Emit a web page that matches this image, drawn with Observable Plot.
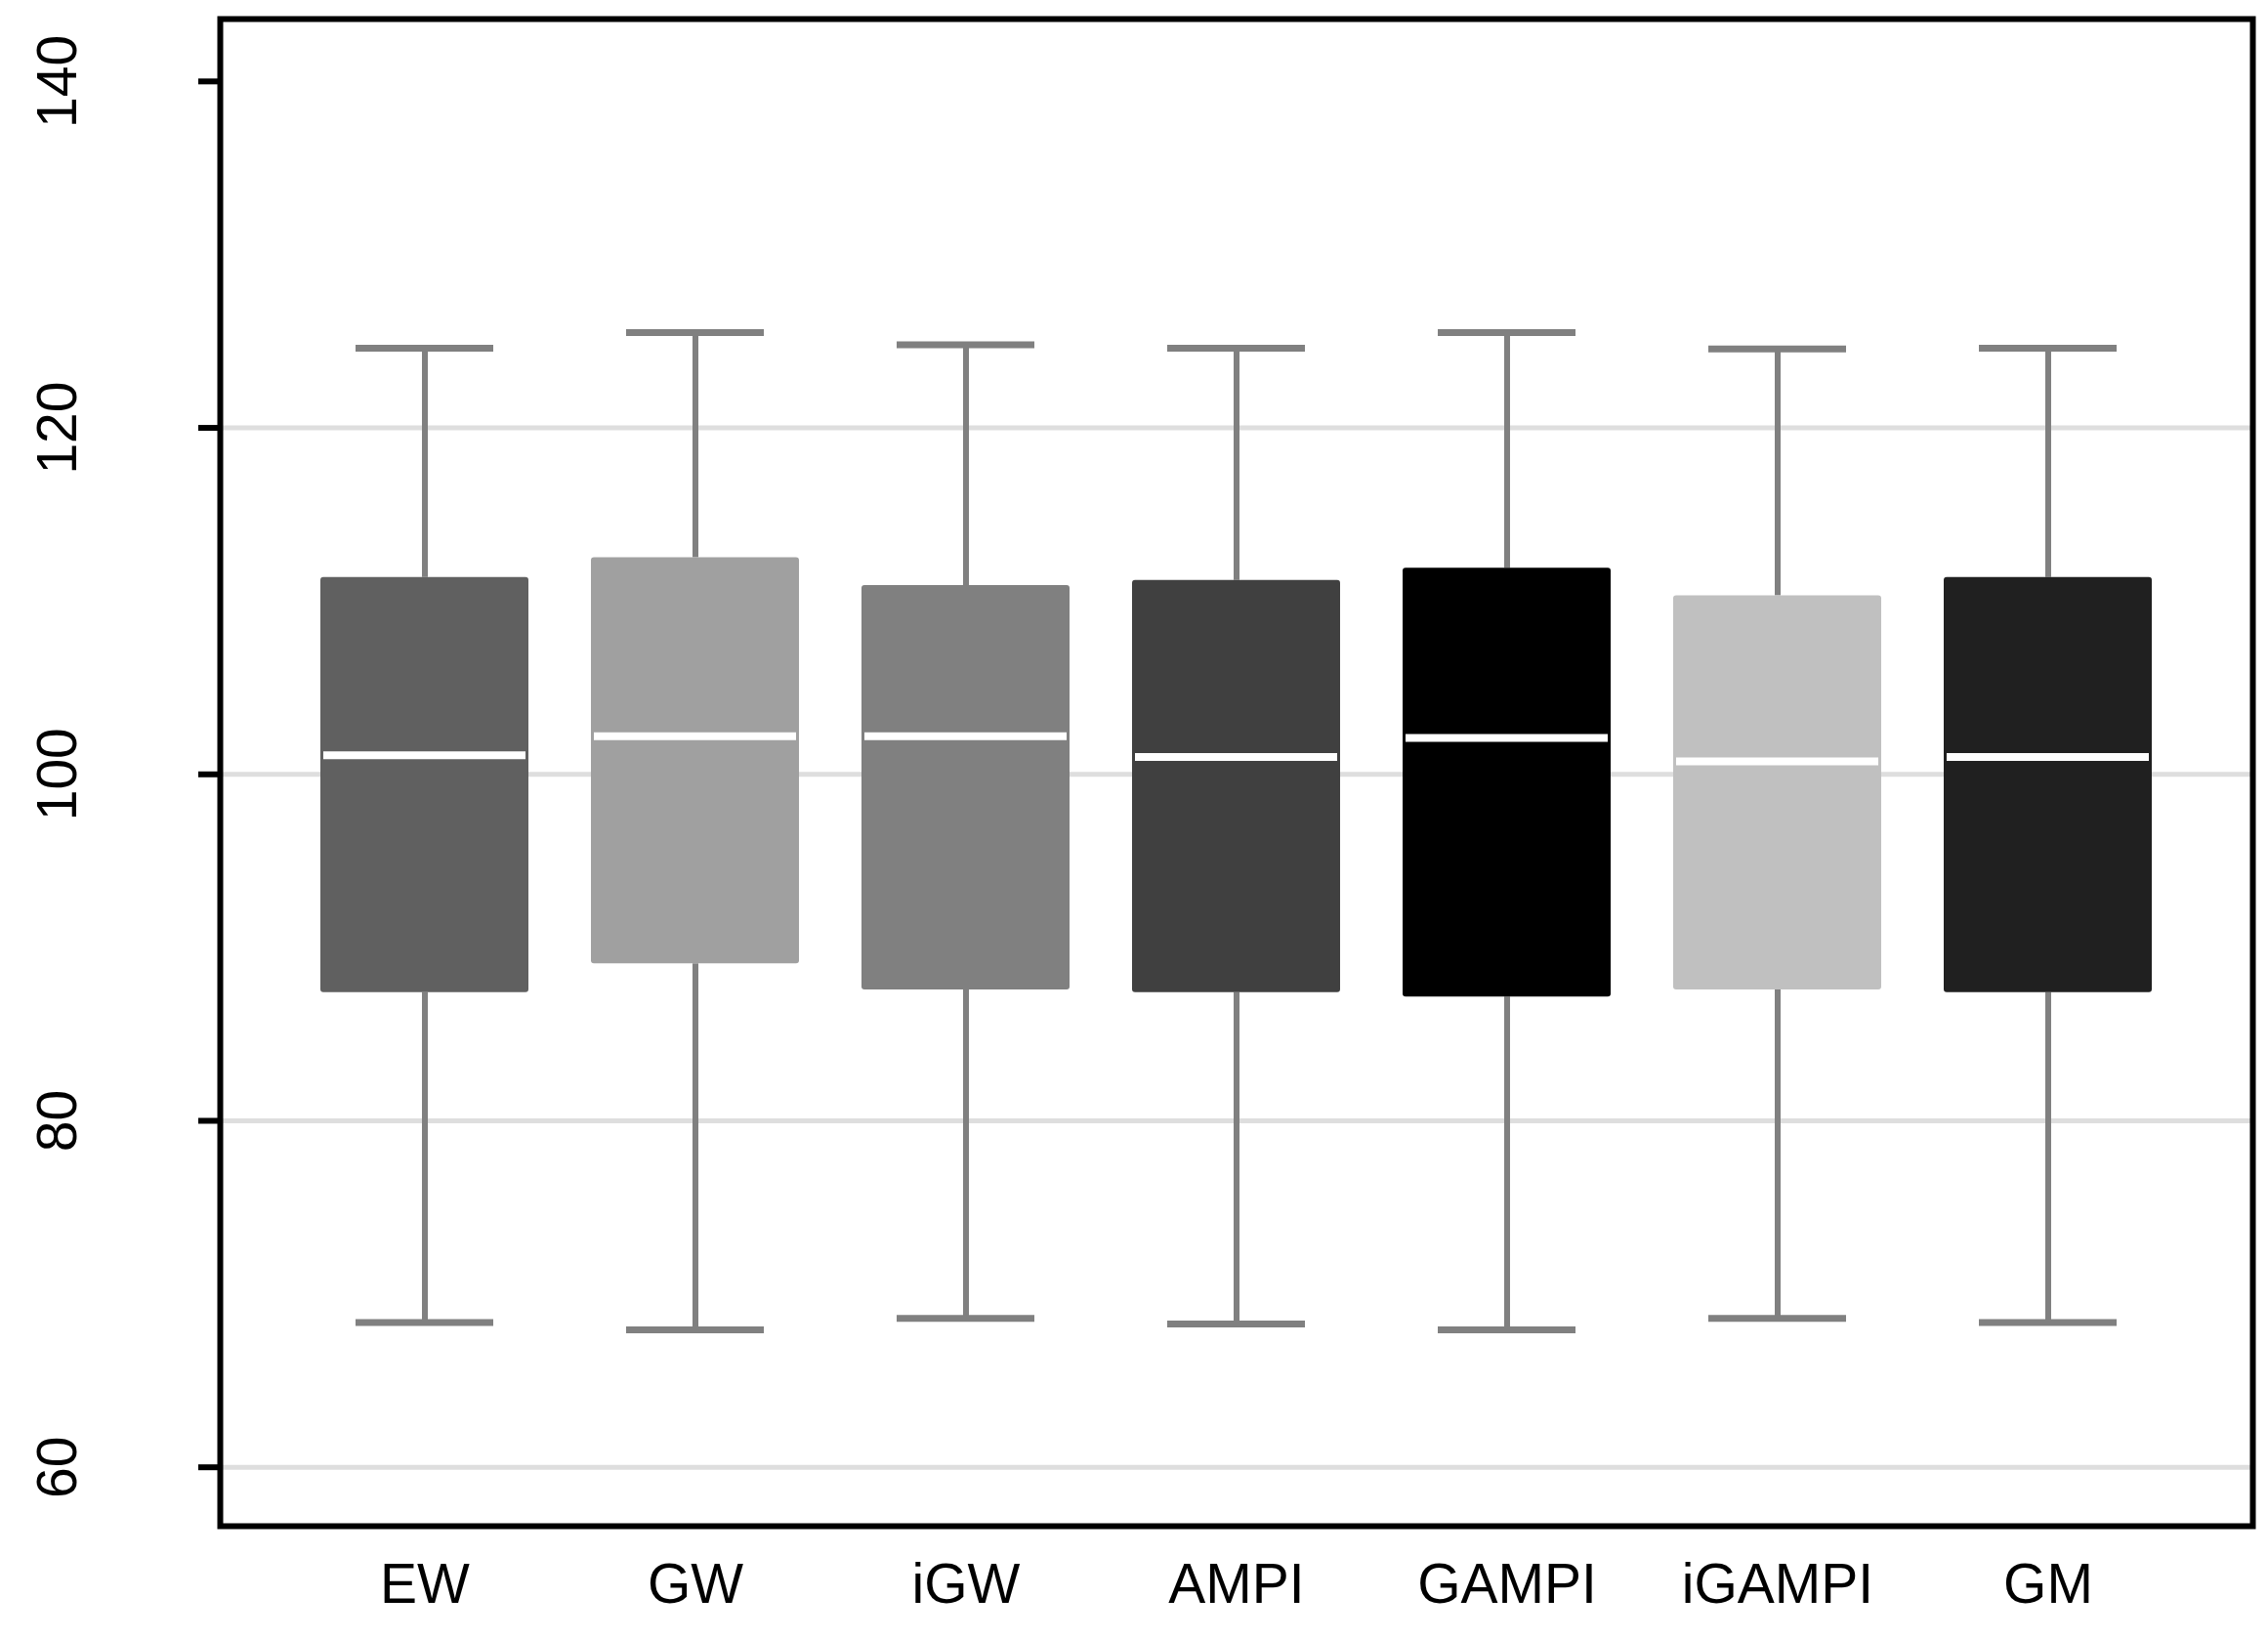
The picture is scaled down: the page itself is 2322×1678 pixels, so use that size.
<!DOCTYPE html>
<html>
<head>
<meta charset="utf-8">
<script src="https://cdn.jsdelivr.net/npm/d3@7"></script>
<script src="https://cdn.jsdelivr.net/npm/@observablehq/plot@0.6"></script>
<style>
  html, body { margin: 0; padding: 0; background: #fff; }
  svg { display: block; }
</style>
</head>
<body>
<div id="chart"></div>
<script>
const categories = ["EW", "GW", "iGW", "AMPI", "GAMPI", "iGAMPI", "GM"];
const lowerWhisker = [68.35, 67.93, 68.6, 68.27, 67.93, 68.6, 68.35];
const q1 = [87.4, 89.06, 87.56, 87.4, 87.14, 87.56, 87.4];
const median = [101.1, 102.2, 102.2, 101.0, 102.1, 100.75, 101.0];
const q3 = [111.36, 112.5, 110.9, 111.2, 111.9, 110.3, 111.36];
const upperWhisker = [124.6, 125.5, 124.8, 124.6, 125.5, 124.55, 124.6];
const boxColors = ["#606060", "#a0a0a0", "#808080", "#404040", "#000000", "#c0c0c0", "#202020"];
const yTicks = [60, 80, 100, 120, 140];
const gridValues = [60, 80, 100, 120];

const rows = categories.map((name, i) => ({
  name, lo: lowerWhisker[i], q1: q1[i], med: median[i], q3: q3[i], hi: upperWhisker[i]
}));

const font = "'Liberation Sans', Arial, sans-serif";

const chart = Plot.plot({
  width: 2322,
  height: 1678,
  marginLeft: 225,
  marginRight: 16,
  marginTop: 19,
  marginBottom: 116,
  style: { fontFamily: font, background: "#fff" },
  x: { type: "band", domain: categories, paddingInner: 0.231, paddingOuter: 0.369, label: null },
  y: { domain: [56.6, 143.6], label: null },
  color: { domain: categories, range: boxColors },
  marks: [
    Plot.ruleY(gridValues, { stroke: "#dedede", strokeWidth: 5 }),
    Plot.ruleX(rows, { x: "name", y1: "q3", y2: "hi", stroke: "#808080", strokeWidth: 6 }),
    Plot.ruleX(rows, { x: "name", y1: "lo", y2: "q1", stroke: "#808080", strokeWidth: 6 }),
    Plot.tickY(rows, { x: "name", y: "hi", stroke: "#808080", strokeWidth: 7, insetLeft: 36, insetRight: 36 }),
    Plot.tickY(rows, { x: "name", y: "lo", stroke: "#808080", strokeWidth: 7, insetLeft: 36, insetRight: 36 }),
    Plot.barY(rows, { x: "name", y1: "q1", y2: "q3", fill: "name", rx: 3 }),
    Plot.tickY(rows, { x: "name", y: "med", stroke: "#ffffff", strokeWidth: 8, insetLeft: 3, insetRight: 3 }),
    Plot.axisY(yTicks, {
      anchor: "left", tickSize: 22, strokeWidth: 6, stroke: "#000",
      tickPadding: 126, tickRotate: -90, fontSize: 57, fill: "#000", label: null
    }),
    Plot.axisX({
      anchor: "bottom", tickSize: 0, tickPadding: 38, fontSize: 57, fill: "#000", label: null
    }),
    Plot.frame({ stroke: "#000", strokeWidth: 6 })
  ]
});

document.getElementById("chart").appendChild(chart);
</script>
</body>
</html>
